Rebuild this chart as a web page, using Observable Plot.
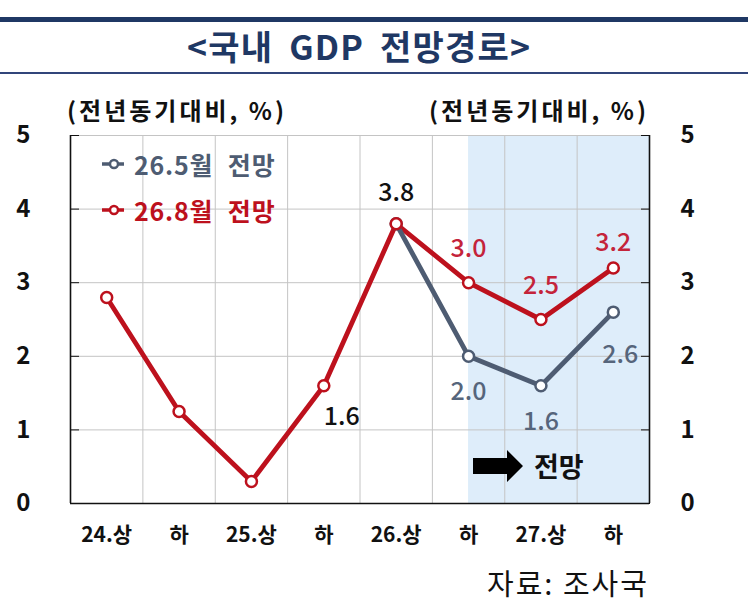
<!DOCTYPE html>
<html><head><meta charset="utf-8">
<script src="https://cdn.jsdelivr.net/npm/d3@7"></script>
<script src="https://cdn.jsdelivr.net/npm/@observablehq/plot@0.6"></script>
<style>
body{margin:0;background:#fff;width:748px;height:616px;position:relative;overflow:hidden;font-family:"Noto Sans CJK KR","Noto Sans",sans-serif;}
#topline{position:absolute;left:0;top:17px;width:748px;height:4.5px;background:#1f3864;}
#title{position:absolute;left:187px;top:24px;font-size:34px;line-height:44px;font-weight:bold;color:#1f3864;letter-spacing:1.2px;word-spacing:7px;white-space:nowrap;}
#rule{position:absolute;left:0;top:72px;width:748px;height:2px;background:#31457a;}
.sub{position:absolute;top:95px;font-size:24px;line-height:30px;font-weight:bold;color:#111;letter-spacing:3px;white-space:nowrap;}
#chart{position:absolute;left:0;top:120px;}
.leg{position:absolute;left:100px;font-size:25px;line-height:32px;font-weight:bold;display:flex;align-items:center;letter-spacing:0.8px;}
.leg svg{margin-right:8px;}
#note{position:absolute;left:473px;top:449px;display:flex;align-items:center;font-size:27px;line-height:34px;font-weight:bold;color:#111;}
#source{position:absolute;left:487px;top:563px;font-size:29px;line-height:38px;color:#111;letter-spacing:2px;}
</style></head><body>
<div id="topline"></div>
<div id="title">&lt;국내 GDP 전망경로&gt;</div>
<div id="rule"></div>
<div class="sub" style="left:67px">(전년동기대비, %)</div>
<div class="sub" style="left:429px">(전년동기대비, %)</div>
<div id="chart"></div>
<div id="legend"></div>
<div id="note"><svg width="52" height="34" viewBox="0 0 52 34"><polygon points="0,9 34,9 34,1 50,17 34,33 34,25 0,25" fill="#000"/></svg><span style="margin-left:9px">전망</span></div>
<div id="source">자료: 조사국</div>
<script>
const periods = ["24.상","하","25.상","하","26.상","하","27.상","하"];
const augForecast = [2.8, 1.25, 0.3, 1.6, 3.8, 3.0, 2.5, 3.2];
const mayForecast = [null, null, null, null, 3.8, 2.0, 1.6, 2.6];
const yTicks = [0, 1, 2, 3, 4, 5];
const seriesNames = ["26.5월 전망", "26.8월 전망"];
const forecastStartIndex = 5;

const RED = "#bd111d", RED_TXT = "#c4243a", GRAY = "#4e5c72", GRAY_TXT = "#56657b";
const FONT = '"Noto Sans CJK KR","Noto Sans",sans-serif';

const augRows = augForecast.map((v, i) => ({i, v}));
const mayRows = mayForecast.map((v, i) => ({i, v})).filter(d => d.v != null);
const xMin = -0.5, xMax = periods.length - 0.5;
const shade = [{x1: forecastStartIndex, x2: xMax, y1: yTicks[0], y2: yTicks[yTicks.length - 1]}];
const bandEdges = d3.range(periods.length - 1).map(i => i + 0.5);
const fmt = d => d.v.toFixed(1);
const LBL = {fontSize: 25, fontWeight: 500};

const chart = Plot.plot({
  width: 748, height: 440,
  marginLeft: 70, marginRight: 99, marginTop: 15, marginBottom: 57,
  x: {domain: [xMin, xMax]},
  y: {domain: [yTicks[0], yTicks[yTicks.length - 1]]},
  style: {fontFamily: FONT, background: "transparent", color: "#111", overflow: "visible"},
  marks: [
    Plot.rect(shade, {x1: "x1", x2: "x2", y1: "y1", y2: "y2", fill: "#deedfa"}),
    Plot.ruleY(yTicks, {stroke: "#c4c4c4", strokeWidth: 1}),
    Plot.ruleX(bandEdges, {stroke: "#c4c4c4", strokeWidth: 1}),
    Plot.ruleX([xMin, xMax], {stroke: "#111", strokeWidth: 1.6}),
    Plot.ruleY([yTicks[0]], {stroke: "#111", strokeWidth: 1.6}),
    Plot.axisY({anchor: "left", ticks: yTicks, tickSize: 9, dx: 9, tickPadding: 40, fontSize: 24, fontWeight: "bold", label: null, tickFormat: d => d}),
    Plot.axisY({anchor: "right", ticks: yTicks, tickSize: 9, dx: -9, tickPadding: 31, fontSize: 24, fontWeight: "bold", label: null, tickFormat: d => d, textAnchor: "start"}),
    Plot.axisX({ticks: d3.range(periods.length), tickFormat: i => periods[i], tickSize: 0, tickPadding: 24, fontSize: 21, fontWeight: "bold", label: null}),
    Plot.line(augRows, {x: "i", y: "v", stroke: RED, strokeWidth: 4.8, strokeLinejoin: "round"}),
    Plot.line(mayRows, {x: "i", y: "v", stroke: GRAY, strokeWidth: 4.8, strokeLinejoin: "round"}),
    Plot.dot(mayRows, {x: "i", y: "v", r: 5.5, fill: "white", stroke: GRAY, strokeWidth: 2.5}),
    Plot.dot(augRows, {x: "i", y: "v", r: 5.5, fill: "white", stroke: RED, strokeWidth: 2.5}),
    // value labels
    Plot.text(augRows.filter(d => d.i === 4), {x: "i", y: "v", text: fmt, dy: -31, ...LBL, fill: "#111"}),
    Plot.text(augRows.filter(d => d.i === 3), {x: "i", y: "v", text: fmt, dx: 18, dy: 31, ...LBL, fill: "#111"}),
    Plot.text(augRows.filter(d => d.i === 5 || d.i === 6), {x: "i", y: "v", text: fmt, dy: -34, ...LBL, fill: RED_TXT}),
    Plot.text(augRows.filter(d => d.i === 7), {x: "i", y: "v", text: fmt, dy: -25, ...LBL, fill: RED_TXT}),
    Plot.text(mayRows.filter(d => d.i === 5 || d.i === 6), {x: "i", y: "v", text: fmt, dy: 36, ...LBL, fill: GRAY_TXT}),
    Plot.text(mayRows.filter(d => d.i === 7), {x: "i", y: "v", text: fmt, dx: 7, dy: 43, ...LBL, fill: GRAY_TXT})
  ]
});
document.getElementById("chart").appendChild(chart);

const legendColors = [GRAY, RED];
const legendTops = [148, 194];
const legend = document.getElementById("legend");
seriesNames.forEach((name, k) => {
  const div = document.createElement("div");
  div.className = "leg";
  div.style.top = legendTops[k] + "px";
  div.style.color = legendColors[k];
  div.innerHTML = `<svg width="26" height="14"><line x1="2" y1="7" x2="24" y2="7" stroke="${legendColors[k]}" stroke-width="3.5"/><circle cx="14" cy="7" r="4" fill="white" stroke="${legendColors[k]}" stroke-width="2.5"/></svg>`;
  const span = document.createElement("span");
  span.textContent = name;
  span.style.wordSpacing = "8px";
  div.appendChild(span);
  legend.appendChild(div);
});
</script>
</body></html>
